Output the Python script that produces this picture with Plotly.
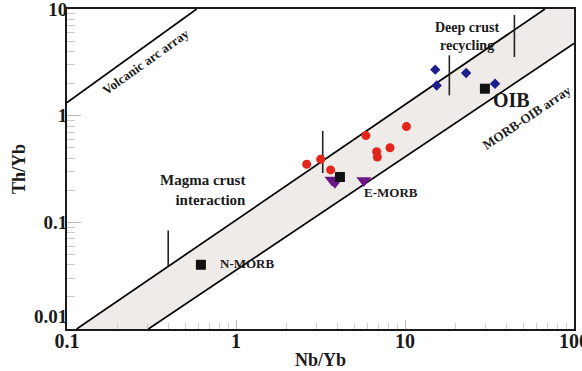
import math
import plotly.graph_objects as go

# ---- data ----
red_nb = [2.62, 3.17, 3.63, 5.87, 6.80, 6.86, 8.15, 10.2]
red_th = [0.35, 0.39, 0.31, 0.65, 0.46, 0.41, 0.50, 0.79]

blue_nb = [15.1, 15.4, 23.0, 34.1]
blue_th = [2.70, 1.92, 2.51, 1.99]

purple_nb = [3.70, 3.85, 5.71]
purple_th = [0.25, 0.238, 0.247]

ref_names = ["N-MORB", "E-MORB", "OIB"]
ref_nb = [0.62, 4.12, 29.7]
ref_th = [0.040, 0.266, 1.79]

# array boundaries (Nb/Yb, Th/Yb)
volc_nb = [0.1, 0.585]
volc_th = [1.33, 10]
upper_nb = [0.114, 67.3]
upper_th = [0.01, 10]
lower_nb = [0.303, 100]
lower_th = [0.01, 4.74]

# vector bars: (Nb/Yb, Th/Yb start, Th/Yb end)
vec_nb = [0.397, 3.26, 18.3, 44.4]
vec_th0 = [0.0385, 0.29, 1.55, 3.55]
vec_th1 = [0.084, 0.72, 3.68, 8.8]

x_ticks = [0.1, 1, 10, 100]
x_ticktext = ["0.1", "1", "10", "100"]
y_ticks = [0.01, 0.1, 1, 10]
y_ticktext = ["0.01<br> ", "0.1", "1", "10"]

SERIF = "Liberation Serif"

fig = go.Figure()

# shaded MORB-OIB array
fig.add_trace(go.Scatter(
    x=upper_nb + [100] + lower_nb[::-1],
    y=upper_th + [10] + lower_th[::-1],
    fill="toself", fillcolor="#EFEBE9", mode="lines",
    line=dict(width=0), hoverinfo="skip", showlegend=False))

for xs, ys in [(volc_nb, volc_th), (upper_nb, upper_th), (lower_nb, lower_th)]:
    fig.add_trace(go.Scatter(x=xs, y=ys, mode="lines",
                             line=dict(color="black", width=1.7),
                             showlegend=False, hoverinfo="skip"))

for nb, t0, t1 in zip(vec_nb, vec_th0, vec_th1):
    fig.add_trace(go.Scatter(x=[nb, nb], y=[t0, t1], mode="lines",
                             line=dict(color="#222", width=1.6),
                             showlegend=False, hoverinfo="skip"))

fig.add_trace(go.Scatter(x=red_nb, y=red_th, mode="markers",
                         marker=dict(symbol="circle", size=9, color="#E3261C"),
                         showlegend=False))
fig.add_trace(go.Scatter(x=blue_nb, y=blue_th, mode="markers",
                         marker=dict(symbol="diamond", size=8, color="#1E1E8C"),
                         showlegend=False))
fig.add_trace(go.Scatter(x=purple_nb, y=purple_th, mode="markers",
                         marker=dict(symbol="triangle-down", size=13, color="#6B1487"),
                         showlegend=False))
fig.add_trace(go.Scatter(x=ref_nb, y=ref_th, mode="markers",
                         marker=dict(symbol="square", size=10, color="#111111"),
                         showlegend=False))

bold = dict(family=SERIF, color="#1a1a1a", weight="bold")

def ann(text, x, y, size, angle=0, xanchor="center", align="center"):
    fig.add_annotation(text=text, x=math.log10(x), y=math.log10(y), xref="x", yref="y",
                       showarrow=False, textangle=angle, xanchor=xanchor, align=align,
                       font=dict(size=size, **bold))

ann("Volcanic arc array", 0.293, 3.23, 13, angle=-35.6)
ann("MORB-OIB array", 52.5, 0.97, 13, angle=-34)
ann("OIB", 42.4, 1.39, 20)
ann("Deep crust<br>recycling", 23.3, 5.56, 14)
ann("Magma crust<br>interaction", 1.18, 0.200, 15, xanchor="right", align="right")
ann("N-MORB", 0.78, 0.041, 13, xanchor="left")
ann("E-MORB", 5.57, 0.189, 13, xanchor="left")

minor_x = [m * d for d in [0.1, 1, 10] for m in range(2, 10)]
minor_y = [m * d for d in [0.01, 0.1, 1] for m in range(2, 10)]

fig.update_xaxes(type="log", range=[-1, 2], tickmode="array", tickvals=x_ticks,
                 ticktext=x_ticktext, ticks="inside", ticklen=9, tickwidth=1,
                 tickcolor="#bbbbbb", automargin=False, ticklabeloverflow="allow",
                 ticklabelstandoff=-7,
                 minor=dict(tickmode="array", tickvals=minor_x, ticks="inside",
                            ticklen=6, tickcolor="#cccccc", tickwidth=1),
                 showgrid=False, zeroline=False, showline=True, linecolor="#1a1a1a",
                 linewidth=2, mirror=True,
                 tickfont=dict(size=20, **bold),
                 title=dict(text="Nb/Yb", font=dict(size=18, **bold), standoff=2))
fig.update_yaxes(type="log", range=[-2, 1], tickmode="array", tickvals=y_ticks,
                 ticktext=y_ticktext, ticks="inside", ticklen=14, tickwidth=1,
                 tickcolor="#bbbbbb", automargin=False, ticklabeloverflow="allow",
                 ticklabelstandoff=-6,
                 minor=dict(tickmode="array", tickvals=minor_y, ticks="inside",
                            ticklen=8, tickcolor="#cccccc", tickwidth=1),
                 showgrid=False, zeroline=False, showline=True, linecolor="#1a1a1a",
                 linewidth=2, mirror=True,
                 tickfont=dict(size=19, **bold),
                 title=dict(text="Th/Yb", font=dict(size=18, **bold), standoff=4))

fig.update_layout(width=582, height=371, margin=dict(l=67, r=8, t=9, b=42),
                  plot_bgcolor="white", paper_bgcolor="white", showlegend=False)

fig.write_html("out.html", config={"displayModeBar": False},
               post_script="document.body.style.margin='0';document.body.style.overflow='hidden';")
